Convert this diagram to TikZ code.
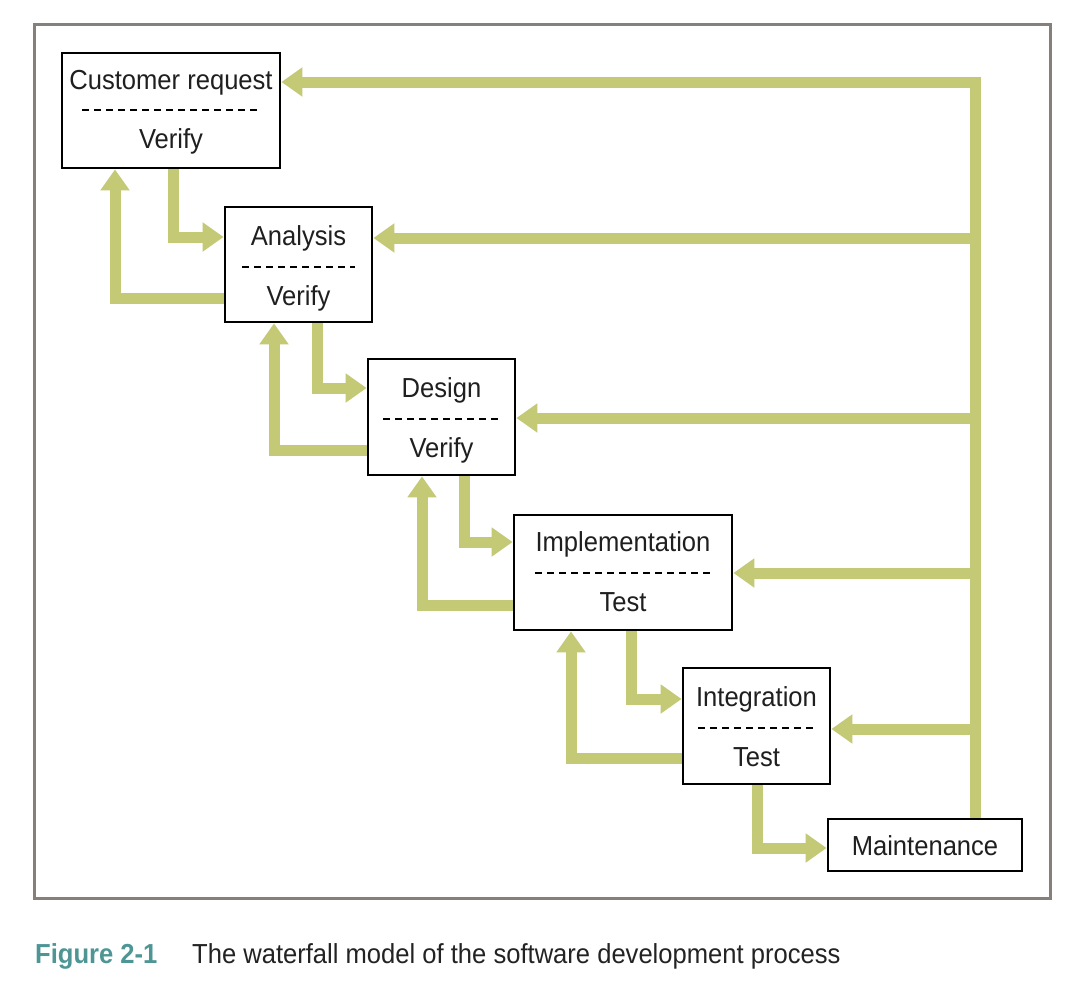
\documentclass[tikz,border=0pt]{standalone}
\usepackage{fontspec}
\setmainfont{Liberation Sans}[FakeStretch=0.93]
\usetikzlibrary{arrows.meta}
\definecolor{fgreen}{RGB}{196,201,118}
\definecolor{frame}{RGB}{135,128,122}
\definecolor{teal2}{RGB}{78,150,150}
\definecolor{captxt}{RGB}{35,35,35}
\tikzset{
  stagebox/.style={draw=black, line width=2.8pt, fill=white, rectangle, inner sep=0pt},
  lbl/.style={anchor=base, inner sep=0pt, font=\fontsize{27.5}{30}\selectfont, text=black!88},
  sep/.style={draw=black, line width=2.5pt, dash pattern=on 7pt off 5pt},
  flow/.style={draw=fgreen, line width=11pt, line join=miter,
    -{Triangle[length=21pt 0 1, width=28pt 0 1]}},
}
\begin{document}
\begin{tikzpicture}[x=1pt,y=-1pt]
\useasboundingbox[fill=white] (0,0) rectangle (1070,990);
\draw[frame, line width=3pt] (34,25) rectangle (1050,898);

% boxes
\node[stagebox, minimum width=218pt, minimum height=115pt] (cr) at (171,110.5) {};
\node[stagebox, minimum width=147pt, minimum height=115pt] (an) at (298.5,264.5) {};
\node[stagebox, minimum width=147pt, minimum height=116pt] (de) at (441.5,417) {};
\node[stagebox, minimum width=218pt, minimum height=115pt] (im) at (623,572.5) {};
\node[stagebox, minimum width=147pt, minimum height=116pt] (ig) at (756.5,726) {};
\node[stagebox, minimum width=194pt, minimum height=52pt] (mt) at (925,845) {};

% labels
\node[lbl] (crt) at (171,89) {Customer request};
\draw[sep] (82,110) -- (257,110);
\node[lbl] (crb) at (171,148) {Verify};

\node[lbl] (ant) at (298.5,245) {Analysis};
\draw[sep] (242,267) -- (355,267);
\node[lbl] (anb) at (298.5,305) {Verify};

\node[lbl] (det) at (441.5,397) {Design};
\draw[sep] (383,419) -- (498,419);
\node[lbl] (deb) at (441.5,457) {Verify};

\node[lbl] (imt) at (623,551) {Implementation};
\draw[sep] (535,573) -- (710,573);
\node[lbl] (imb) at (623,611) {Test};

\node[lbl] (igt) at (756.5,706) {Integration};
\draw[sep] (698,728) -- (814,728);
\node[lbl] (igb) at (756.5,766) {Test};

\node[lbl] (mtt) at (925,855) {Maintenance};

% feedback from maintenance
\draw[flow] (mt.north -| 975,0) |- (cr.east |- 0,82);
\draw[flow] (975,238) -- (an.east |- 0,238);
\draw[flow] (975,418) -- (de.east |- 0,418);
\draw[flow] (975,573) -- (im.east |- 0,573);
\draw[flow] (975,729) -- (ig.east |- 0,729);

% waterfall down
\draw[flow] (cr.south -| 173,0) |- (an.west |- 0,237);
\draw[flow] (an.south -| 317,0) |- (de.west |- 0,388);
\draw[flow] (de.south -| 464,0) |- (im.west |- 0,542);
\draw[flow] (im.south -| 631,0) |- (ig.west |- 0,699);
\draw[flow] (ig.south -| 757,0) |- (mt.west |- 0,848);

% verify back up
\draw[flow] (an.west |- 0,298) -| (cr.south -| 115,0);
\draw[flow] (de.west |- 0,450) -| (an.south -| 274,0);
\draw[flow] (im.west |- 0,605) -| (de.south -| 422,0);
\draw[flow] (ig.west |- 0,758) -| (im.south -| 571,0);

% caption
\node[anchor=base west, inner sep=0pt, font=\fontsize{27.5}{30}\selectfont\bfseries, text=teal2] (fig) at (35,963) {Figure 2-1};
\node[anchor=base west, inner sep=0pt, font=\fontsize{27.5}{30}\selectfont, text=captxt] (cap) at (192,963) {The waterfall model of the software development process};
\end{tikzpicture}
\end{document}
